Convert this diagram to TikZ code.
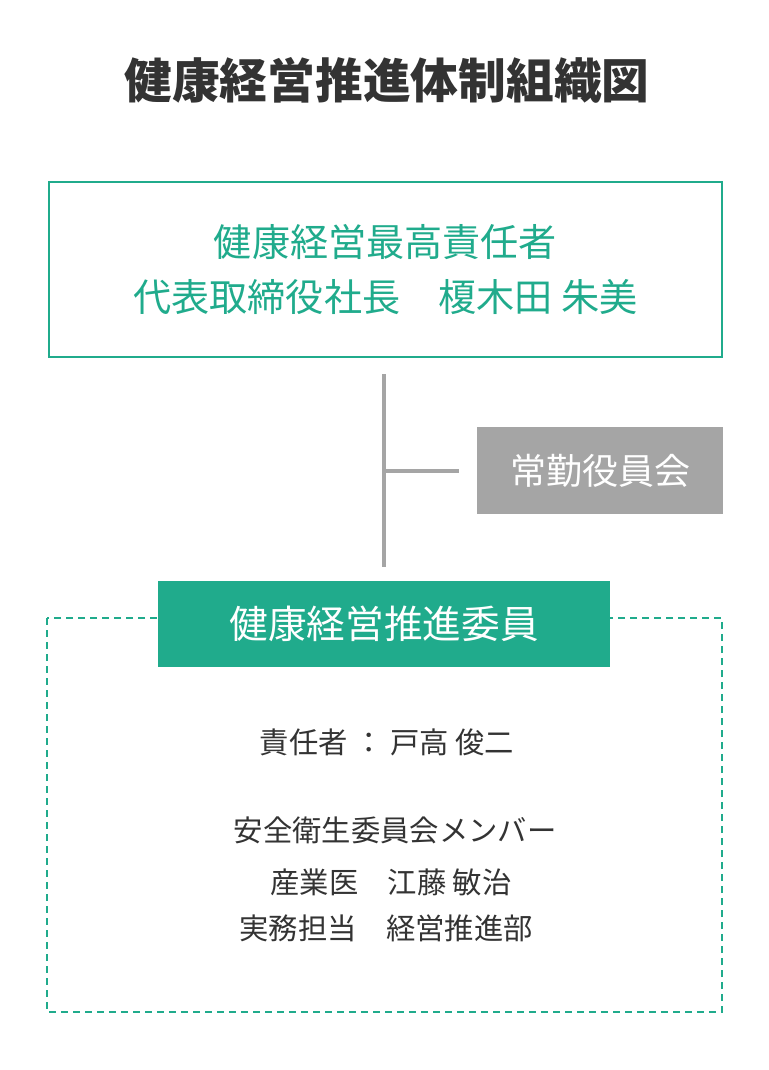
\documentclass[tikz,border=0pt]{standalone}
\usepackage{fontspec}
\setmainfont{Noto Sans CJK JP}
\usepackage{tikz}
\usetikzlibrary{positioning}
\definecolor{kgreen}{HTML}{20AB8C}
\definecolor{kgray}{HTML}{A5A5A5}
\definecolor{ktext}{HTML}{333333}

\begin{document}
\begin{tikzpicture}[x=0.75pt,y=-0.75pt,
    title/.style={font=\fontsize{35.8pt}{40pt}\selectfont\bfseries, text=ktext},
    chiefbox/.style={draw=kgreen, line width=1.5pt, minimum width=504.75pt, minimum height=131.25pt,
        inner sep=0pt, align=center, text=kgreen, font=\fontsize{28.6pt}{41pt}\selectfont},
    graybox/.style={fill=kgray, minimum width=184.5pt, minimum height=65.25pt, inner sep=0pt,
        text=white, font=\fontsize{27pt}{30pt}\selectfont},
    greenbox/.style={fill=kgreen, minimum width=339pt, minimum height=64.5pt, inner sep=0pt,
        text=white, font=\fontsize{29pt}{32pt}\selectfont},
    member/.style={text=ktext, inner sep=0pt, font=\fontsize{22pt}{26pt}\selectfont},
    link/.style={draw=kgray, line width=3pt}]
\useasboundingbox (0,0) rectangle (768,1070);
\node[title] (title) at (387,80) {健康経営推進体制組織図};
\node[chiefbox] (chief) at (385.5,269.5) {健康経営最高責任者\\代表取締役社長　榎木田 朱美};
\node[graybox] (board) at (600,470.5) {常勤役員会};
% dashed frame first, committee box on top of it
\draw[kgreen, line width=1.5pt, dash pattern=on 5.5pt off 3.5pt] (47,618) rectangle (722,1012);
\node[greenbox] (committee) at (384,624) {健康経営推進委員};
\draw[link, shorten <=12pt, shorten >=10pt] (chief.south -| committee.north) -- (committee.north);
\draw[link, shorten >=13pt] (board.west -| committee.north) -- (board.west);
\node[member] (lead) at (387,742) {責任者 ： 戸高 俊二};
\node[member] (members) at (395,830) {安全衛生委員会メンバー};
\node[member] (doctor) at (391,882) {産業医　江藤 敏治};
\node[member] (staff) at (386,928) {実務担当　経営推進部};
\end{tikzpicture}
\end{document}
